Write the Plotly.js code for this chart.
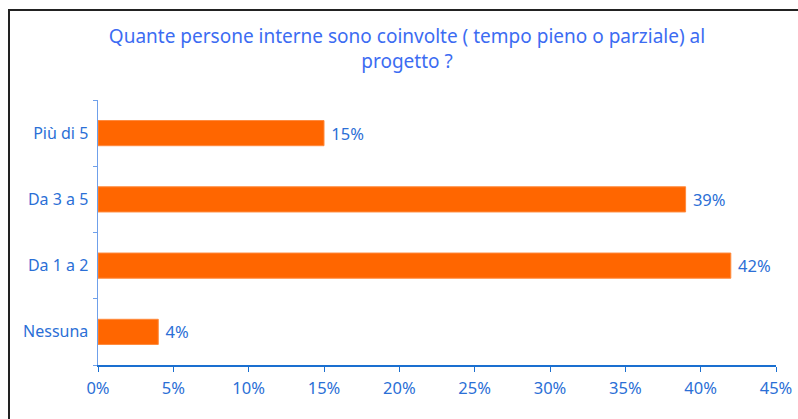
<!DOCTYPE html>
<html><head><meta charset="utf-8">
<script src="https://cdn.plot.ly/plotly-3.0.1.min.js"></script>
<style>body{margin:0;background:#fff}#c{width:798px;height:419px}</style>
</head><body><div id="c"></div>
<script>
const categories = ["Nessuna", "Da 1 a 2", "Da 3 a 5", "Più di 5"];
const values = [4, 42, 39, 15];
const tickVals = [0, 5, 10, 15, 20, 25, 30, 35, 40, 45];
const tickLabels = ["0%", "5%", "10%", "15%", "20%", "25%", "30%", "35%", "40%", "45%"];
const titleText = "Quante persone interne sono coinvolte ( tempo pieno o parziale) al<br>progetto ?";

const FONT = "Noto Sans, DejaVu Sans, sans-serif";
const BLUE = "#2b6fd6";
const L = 98, R = 22, T = 100, B = 54, W = 798, H = 419;
const pw = W - L - R, ph = H - T - B;
const px = v => (v - L) / pw, py = v => (H - B - v) / ph;

Plotly.newPlot("c", [{
  type: "bar", orientation: "h",
  y: categories, x: values,
  marker: {color: "#ff6600", line: {color: "#ff8a3d", width: 1}},
  text: values.map(v => "\u00a0" + v + "%"), textposition: "outside",
  textfont: {family: FONT, size: 16.5, color: BLUE},
  cliponaxis: false, hoverinfo: "none"
}], {
  width: W, height: H,
  margin: {l: L, r: R, t: T, b: B},
  paper_bgcolor: "#fff", plot_bgcolor: "#fff",
  bargap: 0.62,
  showlegend: false,
  title: {text: titleText, font: {family: FONT, size: 19, color: "#3c6cf2"}, x: 0.51, xanchor: "center", y: 0.897, yanchor: "top"},
  xaxis: {range: [0, 45], tickvals: tickVals, ticktext: tickLabels, showgrid: false, zeroline: false,
    showline: true, linecolor: "#1a6fd0", linewidth: 1.5, ticks: "outside", ticklen: 5, tickcolor: "#1a6fd0",
    tickfont: {family: FONT, size: 16.5, color: BLUE}, ticklabelstandoff: 3, fixedrange: true},
  yaxis: {showgrid: false, zeroline: false, showline: true, linecolor: "#6fa0ea", linewidth: 1.5,
    ticks: "outside", ticklen: 4, tickcolor: "#6fa0ea", tickson: "boundaries",
    tickfont: {family: FONT, size: 16, color: BLUE}, ticklabelstandoff: 5, fixedrange: true},
  shapes: [{type: "rect", xref: "paper", yref: "paper", x0: px(9), x1: px(805), y0: py(426), y1: py(10),
    line: {color: "#222", width: 2}, fillcolor: "rgba(0,0,0,0)", layer: "above"}]
}, {staticPlot: true});
</script></body></html>
